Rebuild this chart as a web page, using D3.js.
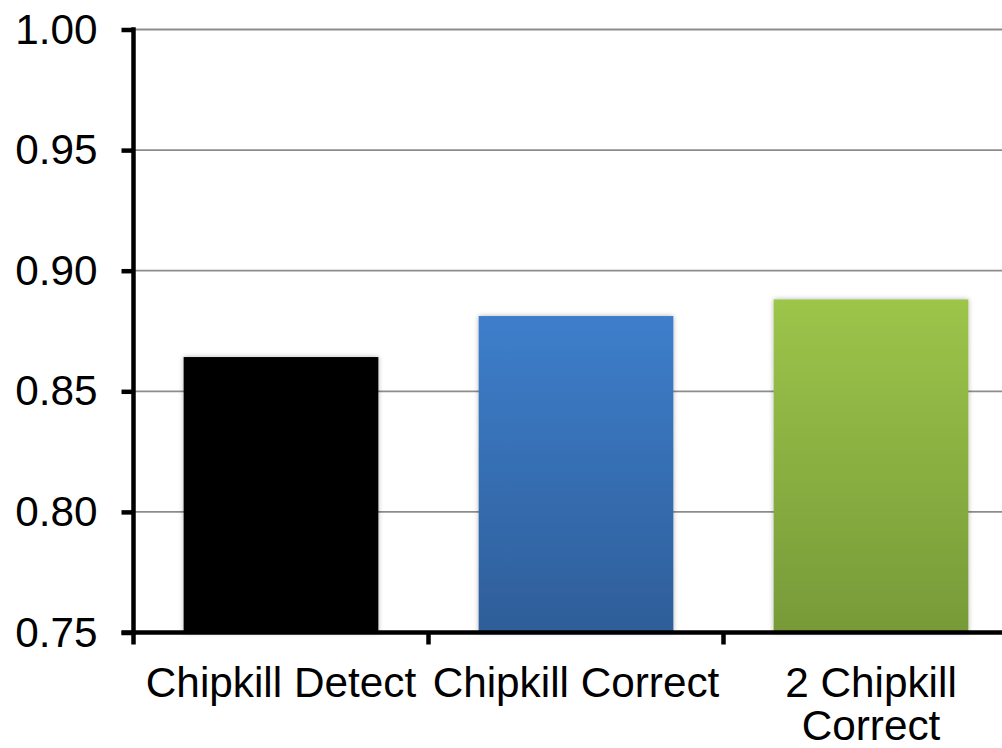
<!DOCTYPE html>
<html>
<head>
<meta charset="utf-8">
<script src="https://cdn.jsdelivr.net/npm/d3@7"></script>
<style>
  html, body { margin: 0; padding: 0; background: #fff; }
  svg { display: block; font-family: "Liberation Sans", Arial, sans-serif; }
</style>
</head>
<body>
<svg id="chart" width="1002" height="748"></svg>
<script>
// Normalised value per ECC scheme
const categories = ["Chipkill Detect", "Chipkill Correct", "2 Chipkill Correct"];
const values = [0.8642, 0.8812, 0.8881];
const categoryLines = [["Chipkill Detect"], ["Chipkill Correct"], ["2 Chipkill", "Correct"]];
const yTicks = [0.75, 0.80, 0.85, 0.90, 0.95, 1.00];

const svg = d3.select("#chart");
const plotLeft = 133.5, plotTop = 29.5, plotBottom = 632.5, step = 295;
const fontSize = 42.3;

const x = d3.scaleBand()
  .domain(categories)
  .range([plotLeft, plotLeft + step * categories.length])
  .paddingInner(0.34)
  .paddingOuter(0.17);

const y = d3.scaleLinear().domain([0.75, 1.0]).range([plotBottom, plotTop]);

// Gradients and soft shadow for the bars
const defs = svg.append("defs");
const fills = [
  { id: "g0", c0: "#000000", c1: "#000000" },
  { id: "g1", c0: "#3d7ecb", c1: "#2e5e99" },
  { id: "g2", c0: "#9cc54a", c1: "#779a38" }
];
fills.forEach(f => {
  const g = defs.append("linearGradient").attr("id", f.id)
    .attr("x1", 0).attr("y1", 0).attr("x2", 0).attr("y2", 1);
  g.append("stop").attr("offset", "0%").attr("stop-color", f.c0);
  g.append("stop").attr("offset", "100%").attr("stop-color", f.c1);
});
const shadow = defs.append("filter").attr("id", "shadow")
  .attr("x", "-10%").attr("y", "-10%").attr("width", "120%").attr("height", "120%");
shadow.append("feDropShadow").attr("dx", 0).attr("dy", 0)
  .attr("stdDeviation", 2.5).attr("flood-color", "#000").attr("flood-opacity", 0.3);

// Horizontal grid lines
svg.append("g").selectAll("line")
  .data(yTicks.filter(t => t > 0.75))
  .join("line")
  .attr("x1", plotLeft).attr("x2", 1002)
  .attr("y1", d => y(d)).attr("y2", d => y(d))
  .attr("stroke", "#8c8c8c").attr("stroke-width", 1.8);

// Bars
svg.append("g").selectAll("rect")
  .data(values)
  .join("rect")
  .attr("x", (d, i) => x(categories[i]))
  .attr("width", x.bandwidth())
  .attr("y", d => y(d))
  .attr("height", d => y(0.75) - y(d))
  .attr("fill", (d, i) => `url(#${fills[i].id})`)
  .attr("filter", "url(#shadow)");

// Y axis
const yAxis = svg.append("g")
  .attr("transform", `translate(${plotLeft},0)`)
  .call(d3.axisLeft(y).tickValues(yTicks).tickFormat(d3.format(".2f")).tickSize(12).tickPadding(24));
yAxis.select(".domain").remove();
yAxis.selectAll(".tick line").attr("stroke", "#000").attr("stroke-width", 4.5);
yAxis.selectAll(".tick text")
  .attr("font-size", fontSize).attr("fill", "#000")
  .attr("font-family", "Liberation Sans, Arial, sans-serif");
svg.append("line")
  .attr("x1", plotLeft).attr("x2", plotLeft)
  .attr("y1", plotTop - 2.25).attr("y2", plotBottom + 2.25)
  .attr("stroke", "#000").attr("stroke-width", 4.5);

// X axis baseline with ticks at category boundaries
svg.append("line")
  .attr("x1", plotLeft - 12).attr("x2", 1002)
  .attr("y1", plotBottom).attr("y2", plotBottom)
  .attr("stroke", "#000").attr("stroke-width", 4.5);
const boundaries = d3.range(categories.length + 1).map(i => plotLeft + i * x.step());
svg.append("g").selectAll("line")
  .data(boundaries)
  .join("line")
  .attr("x1", d => d).attr("x2", d => d)
  .attr("y1", plotBottom).attr("y2", plotBottom + 12)
  .attr("stroke", "#000").attr("stroke-width", 4.5);

// Category labels
const labels = svg.append("g")
  .attr("font-size", fontSize).attr("fill", "#000").attr("text-anchor", "middle");
categoryLines.forEach((lines, i) => {
  const cx = x(categories[i]) + x.bandwidth() / 2;
  const t = labels.append("text").attr("x", cx).attr("y", 697);
  lines.forEach((ln, j) => {
    t.append("tspan").attr("x", cx).attr("dy", j === 0 ? 0 : 43).text(ln);
  });
});
</script>
</body>
</html>
